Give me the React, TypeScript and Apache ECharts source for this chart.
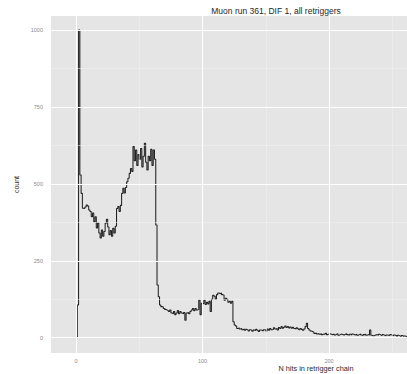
import React, { useEffect, useRef } from "react";
import * as echarts from "echarts";

// Histogram bins: left edge = BIN_START + i, width 1
const BIN_START = 0;
const counts = [
  0, 106, 1000, 529, 469,
  421, 420, 425, 431, 428,
  415, 410, 393, 405, 377,
  393, 357, 373, 340, 324,
  350, 330, 345, 372, 385,
  360, 335, 348, 330, 356,
  340, 362, 420, 426, 410,
  430, 469, 486, 470, 488,
  507, 518, 534, 550, 540,
  621, 575, 610, 560, 595,
  580, 615, 555, 590, 632,
  570, 545, 590, 575, 612,
  560, 610, 580, 366, 171,
  133, 106, 101, 100, 95,
  92, 90, 88, 85, 90,
  80, 78, 85, 75, 80,
  88, 78, 85, 80, 78,
  82, 57, 80, 82, 78,
  85, 90, 95, 88, 95,
  90, 92, 122, 75, 112,
  110, 122, 108, 115, 110,
  118, 85, 125, 138, 135,
  125, 140, 145, 143, 145,
  140, 138, 122, 128, 125,
  115, 118, 112, 118, 52,
  41, 38, 30, 32, 28,
  30, 26, 28, 24, 27,
  25, 22, 26, 24, 21,
  25, 23, 27, 24, 20,
  25, 24, 22, 26, 25,
  22, 28, 24, 30, 26,
  27, 32, 28, 30, 25,
  33, 30, 36, 31, 34,
  38, 33, 36, 32, 35,
  31, 34, 30, 28, 32,
  29, 26, 30, 27, 24,
  28, 36, 47, 30, 25,
  22, 20, 18, 14, 15,
  12, 14, 11, 13, 10,
  12, 11, 14, 10, 12,
  13, 11, 10, 12, 9,
  11, 13, 8, 10, 12,
  10, 9, 11, 13, 10,
  8, 11, 9, 12, 10,
  9, 11, 8, 10, 12,
  9, 7, 10, 11, 8,
  10, 9, 25, 8, 6,
  7, 9, 10, 8, 11,
  9, 7, 10, 8, 6,
  9, 8, 7, 10, 8,
  6, 9, 7, 5, 8,
  6, 4, 7, 5, 6,
  4, 5, 3,
];

const X_MIN = -19.8;
const X_MAX = 261.6;
const Y_MIN = -49.7;
const Y_MAX = 1045.5;
const xMajorTicks = [0, 100, 200];
const xMinorTicks = [50, 150, 250];
const yMajorTicks = [0, 250, 500, 750, 1000];
const yMinorTicks = [125, 375, 625, 875];

const TITLE = "Muon run 361, DIF 1, all retriggers";
const X_TITLE = "N hits in retrigger chain";
const Y_TITLE = "count";

export default function App() {
  const ref = useRef<HTMLDivElement>(null);
  useEffect(() => {
    if (!ref.current) return;
    const chart = echarts.init(ref.current, undefined, { renderer: "svg" });
    const data = counts.map((v, i) => [BIN_START + i, v]);
    const font = "Liberation Sans, Arial, sans-serif";
    const major = { color: "#ffffff", width: 1.1, type: "solid" };
    const minor = { color: "#f2f2f2", width: 0.5, type: "solid" };
    const gridData: any[] = [
      ...xMinorTicks.map((v) => ({ xAxis: v, lineStyle: minor })),
      ...yMinorTicks.map((v) => ({ yAxis: v, lineStyle: minor })),
      ...xMajorTicks.map((v) => ({ xAxis: v, lineStyle: major })),
      ...yMajorTicks.map((v) => ({ yAxis: v, lineStyle: major })),
    ];
    const plain = (v: number) => String(v);
    chart.setOption({
      animation: false,
      backgroundColor: "#ffffff",
      grid: {
        left: 51,
        top: 16,
        width: 356,
        height: 337,
        show: true,
        backgroundColor: "#e5e5e5",
        borderWidth: 0,
      },
      xAxis: {
        type: "value",
        min: X_MIN,
        max: X_MAX,
        axisLine: { show: false },
        splitLine: { show: false },
        axisTick: {
          show: true,
          customValues: xMajorTicks,
          length: 4,
          lineStyle: { color: "#7f7f7f", width: 0.6 },
        },
        axisLabel: {
          customValues: xMajorTicks,
          formatter: plain,
          margin: 5,
          fontSize: 5.5,
          color: "#8a8a8a",
          fontFamily: font,
        },
      },
      yAxis: {
        type: "value",
        min: Y_MIN,
        max: Y_MAX,
        name: Y_TITLE,
        nameLocation: "middle",
        nameGap: 22,
        nameTextStyle: { fontSize: 7, color: "#2a2a2a", fontFamily: font },
        axisLine: { show: false },
        splitLine: { show: false },
        axisTick: {
          show: true,
          customValues: yMajorTicks,
          length: 4,
          lineStyle: { color: "#7f7f7f", width: 0.6 },
        },
        axisLabel: {
          customValues: yMajorTicks,
          formatter: plain,
          margin: 8,
          fontSize: 5.5,
          color: "#8a8a8a",
          fontFamily: font,
        },
      },
      graphic: [
        {
          type: "text",
          x: 276,
          y: 11,
          style: {
            text: TITLE,
            fontSize: 8.5,
            fill: "#262626",
            fontFamily: font,
            textAlign: "center",
            textVerticalAlign: "middle",
          },
        },
        {
          type: "text",
          x: 316,
          y: 368,
          style: {
            text: X_TITLE,
            fontSize: 7.3,
            fill: "#2a2a2a",
            fontFamily: font,
            textAlign: "center",
            textVerticalAlign: "middle",
          },
        },
      ],
      series: [
        {
          type: "line",
          data: [],
          z: 1,
          silent: true,
          markLine: {
            silent: true,
            symbol: ["none", "none"],
            label: { show: false },
            animation: false,
            data: gridData,
          },
        },
        {
          type: "line",
          data,
          z: 3,
          step: "end",
          symbol: "none",
          lineStyle: { color: "#222222", width: 1.05 },
        },
      ],
    });
    return () => chart.dispose();
  }, []);
  return (
    <div
      ref={ref}
      style={{ position: "fixed", left: 0, top: 0, width: 407, height: 374 }}
    />
  );
}
